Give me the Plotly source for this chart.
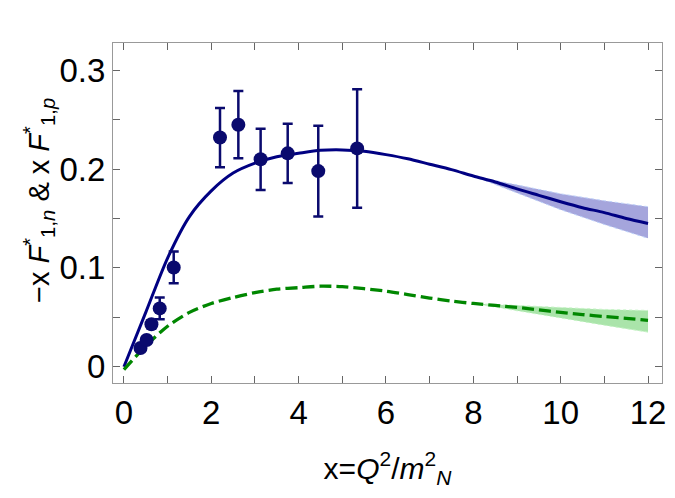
import plotly.graph_objects as go

# Theory curves
curve_x = [0, 0.5, 1, 1.5, 2, 2.5, 3, 3.5, 4, 4.5, 5, 5.5, 6, 6.5, 7, 7.5,
           8, 8.5, 9, 9.5, 10, 10.5, 11, 11.5, 12]
proton_y = [0.0, 0.055, 0.110, 0.152, 0.178, 0.196, 0.206, 0.2125, 0.216, 0.219, 0.2195,
            0.218, 0.2147, 0.2105, 0.205, 0.1995, 0.193, 0.187, 0.180, 0.1735, 0.167,
            0.161, 0.156, 0.150, 0.145]
neutron_y = [-0.003, 0.021, 0.041, 0.055, 0.064, 0.070, 0.075, 0.0785, 0.080, 0.0815, 0.081,
             0.079, 0.0765, 0.073, 0.0695, 0.0665, 0.064, 0.062, 0.060, 0.0575, 0.055,
             0.0528, 0.0508, 0.049, 0.047]

# Uncertainty bands (x >= 8)
band_x = [8, 9, 10, 11, 12]
proton_lo = [0.193, 0.176, 0.159, 0.144, 0.130]
proton_hi = [0.193, 0.184, 0.175, 0.168, 0.162]
neutron_lo = [0.064, 0.0565, 0.049, 0.042, 0.035]
neutron_hi = [0.064, 0.062, 0.060, 0.058, 0.057]

# Data points
data_x = [0.38, 0.52, 0.63, 0.82, 1.14, 2.2, 2.62, 3.13, 3.75, 4.45, 5.34]
data_y = [0.019, 0.027, 0.043, 0.059, 0.1005, 0.232, 0.245, 0.210, 0.216, 0.198, 0.221]
data_err = [0.003, 0.003, 0.004, 0.011, 0.016, 0.030, 0.034, 0.031, 0.030, 0.046, 0.060]

Y_TITLE = "−x <i>F</i><sup>*</sup><sub>1,<i>n</i></sub> &amp; x <i>F</i><sup>*</sup><sub>1,<i>p</i></sub>"
X_TITLE = "x=<i>Q</i><sup>2</sup>/<i>m</i><sup>2</sup><sub><i>N</i></sub>"

NAVY = "rgb(10,10,110)"
LINE_BLUE = "rgb(0,0,130)"
GREEN = "rgb(0,135,0)"
FONT = "Liberation Sans"

fig = go.Figure()

# bands
fig.add_trace(go.Scatter(x=band_x, y=proton_lo, mode="lines",
                         line=dict(color="rgba(190,210,250,1)", width=1, dash="dot"),
                         showlegend=False, hoverinfo="skip"))
fig.add_trace(go.Scatter(x=band_x, y=proton_hi, mode="lines", fill="tonexty",
                         fillcolor="rgba(165,165,220,1)",
                         line=dict(color="rgba(190,210,250,1)", width=1, dash="dot"),
                         showlegend=False, hoverinfo="skip"))
fig.add_trace(go.Scatter(x=band_x, y=neutron_lo, mode="lines",
                         line=dict(color="rgba(200,245,200,1)", width=1, dash="dot"),
                         showlegend=False, hoverinfo="skip"))
fig.add_trace(go.Scatter(x=band_x, y=neutron_hi, mode="lines", fill="tonexty",
                         fillcolor="rgba(170,228,170,1)",
                         line=dict(color="rgba(200,245,200,1)", width=1, dash="dot"),
                         showlegend=False, hoverinfo="skip"))

# curves
fig.add_trace(go.Scatter(x=curve_x, y=proton_y, mode="lines", line_shape="spline",
                         line=dict(color=LINE_BLUE, width=3, smoothing=0.8), showlegend=False))
fig.add_trace(go.Scatter(x=curve_x, y=neutron_y, mode="lines", line_shape="spline",
                         line=dict(color=GREEN, width=3.3, dash="12px,5px", smoothing=0.8),
                         showlegend=False))

# data
fig.add_trace(go.Scatter(x=data_x, y=data_y, mode="markers",
                         marker=dict(color=NAVY, size=14),
                         error_y=dict(type="data", array=data_err, color=NAVY,
                                      thickness=2.5, width=5),
                         showlegend=False))

axis_common = dict(
    showgrid=False, zeroline=False, showline=True, linecolor="#999999", linewidth=1,
    mirror="ticks", ticks="inside", ticklen=7, tickcolor="#666666", tickwidth=1,
    tickfont=dict(family=FONT, size=33, color="black"),
)

fig.update_xaxes(range=[-0.25, 12.32], tickvals=[0, 2, 4, 6, 8, 10, 12],
                 minor=dict(dtick=1, ticklen=7, tickcolor="#666666", ticks="inside"),
                 title=dict(text=X_TITLE,
                            font=dict(family=FONT, size=30, color="black"),
                            standoff=28),
                 **axis_common)
fig.update_yaxes(range=[-0.0165, 0.3277], tickvals=[0, 0.1, 0.2, 0.3],
                 ticktext=["0", "0.1", "0.2", "0.3"],
                 minor=dict(dtick=0.05, ticklen=7, tickcolor="#666666", ticks="inside"),
                 **axis_common)

fig.add_annotation(text=Y_TITLE, textangle=-90, xref="paper", yref="paper",
                   x=0, y=0.5, xanchor="center", yanchor="middle",
                   xshift=-74, yshift=12, showarrow=False,
                   font=dict(family=FONT, size=29, color="black"))

fig.update_layout(
    width=675, height=498,
    margin=dict(l=113, r=9, t=43, b=115),
    paper_bgcolor="white", plot_bgcolor="white",
    font=dict(family=FONT, color="black"),
)

fig.write_html("out.html")
